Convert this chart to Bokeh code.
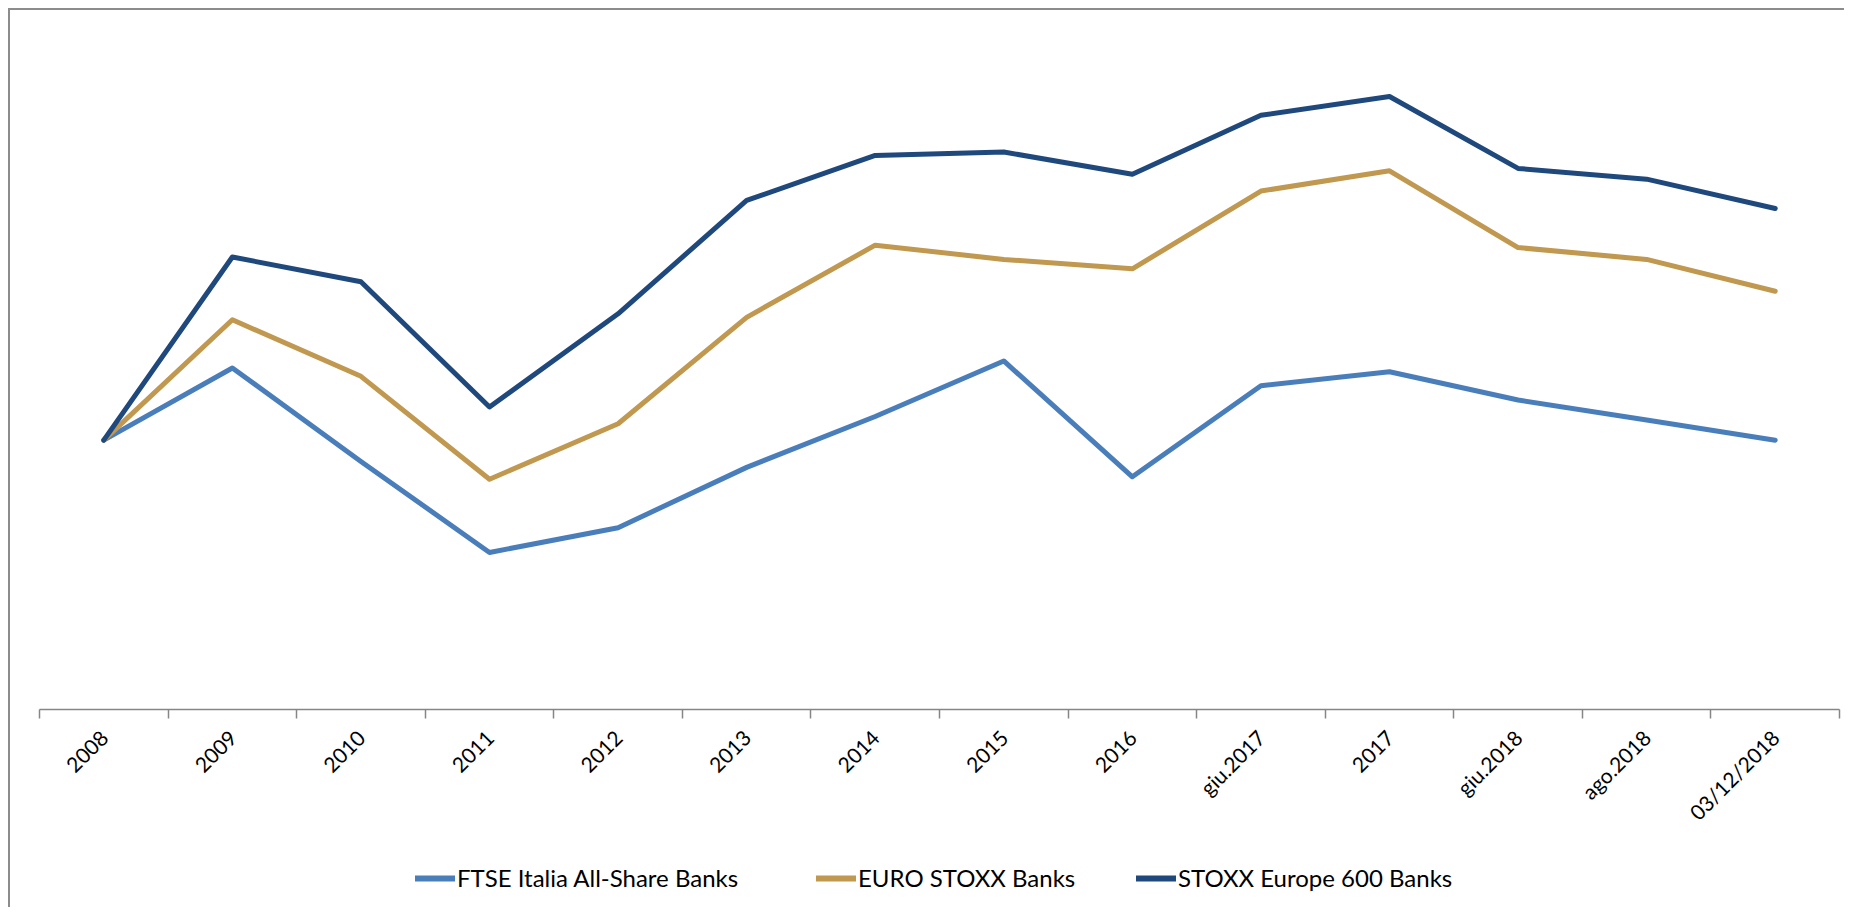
import math
from bokeh.plotting import figure
from bokeh.models import Range1d, FixedTicker, Legend, LegendItem
from bokeh.layouts import column
from bokeh.embed import file_html
from bokeh.resources import INLINE

categories = ["2008", "2009", "2010", "2011", "2012", "2013", "2014", "2015",
              "2016", "giu.2017", "2017", "giu.2018", "ago.2018", "03/12/2018"]
ftse_italia = [100.0, 126.8, 92.1, 58.3, 67.5, 89.9, 108.8, 129.4, 86.4, 120.2, 125.4, 114.9, 107.5, 100.0]
euro_stoxx = [100.0, 144.7, 123.7, 85.5, 106.1, 145.6, 172.4, 167.1, 163.6, 192.5, 200.0, 171.5, 167.1, 155.3]
stoxx_600 = [100.0, 168.0, 158.8, 112.3, 146.9, 189.0, 205.7, 207.0, 198.7, 220.6, 227.6, 200.9, 196.9, 186.0]
series_names = ["FTSE Italia All-Share Banks", "EURO STOXX Banks", "STOXX Europe 600 Banks"]
series_colors = ["#4A7EBB", "#C0984F", "#1F497D"]

n = len(categories)
xs = [i + 0.5 for i in range(n)]
series = [ftse_italia, euro_stoxx, stoxx_600]

p = figure(width=1834, height=835, output_backend="svg", toolbar_location=None,
           x_range=Range1d(0, n), y_range=Range1d(0, 252.1),
           y_axis_location=None, min_border_left=29, min_border_right=5,
           min_border_top=20, min_border_bottom=136)
p.outline_line_color = None
p.xgrid.visible = False
p.ygrid.visible = False

for vals, col in zip(series, series_colors):
    p.line(xs, vals, line_color=col, line_width=5, line_join="round", line_cap="round")

ax = p.xaxis[0]
ax.ticker = FixedTicker(ticks=xs, minor_ticks=list(range(n + 1)))
ax.major_label_overrides = {x: c for x, c in zip(xs, categories)}
ax.major_tick_line_color = None
ax.minor_tick_line_color = "#868686"
ax.minor_tick_line_width = 1.5
ax.minor_tick_in = 0
ax.minor_tick_out = 9
ax.axis_line_color = "#868686"
ax.axis_line_width = 1.5
ax.major_label_orientation = math.pi / 4
ax.major_label_standoff = 15
ax.major_label_text_font = "Lato"
ax.major_label_text_font_size = "21px"
ax.major_label_text_color = "black"

# legend strip (its lines use the same data but lie outside its visible range)
p2 = figure(width=1834, height=62, output_backend="svg", toolbar_location=None,
            x_axis_location=None, y_axis_location=None, min_border=0,
            x_range=Range1d(0, n), y_range=Range1d(1000, 1001))
p2.outline_line_color = None
p2.xgrid.visible = False
p2.ygrid.visible = False
legend_x = [376, 777, 1097]
for name, vals, col, lx in zip(series_names, series, series_colors, legend_x):
    r = p2.line(xs, vals, line_color=col, line_width=6, line_cap="round")
    lg = Legend(items=[LegendItem(label=name, renderers=[r])], location=(lx, 15),
                orientation="horizontal", border_line_color=None, background_fill_alpha=0,
                padding=0, margin=0, glyph_width=40, glyph_height=24, label_height=24,
                label_standoff=2, label_text_font="Lato", label_text_font_size="24px",
                label_text_color="black")
    p2.add_layout(lg, "center")

layout = column(p, p2, spacing=0)
layout.styles = {"border-top": "2px solid #8c8c8c", "border-left": "2px solid #8c8c8c",
                 "margin-left": "8px", "margin-top": "8px"}

open("out.html", "w").write(file_html(layout, INLINE))
